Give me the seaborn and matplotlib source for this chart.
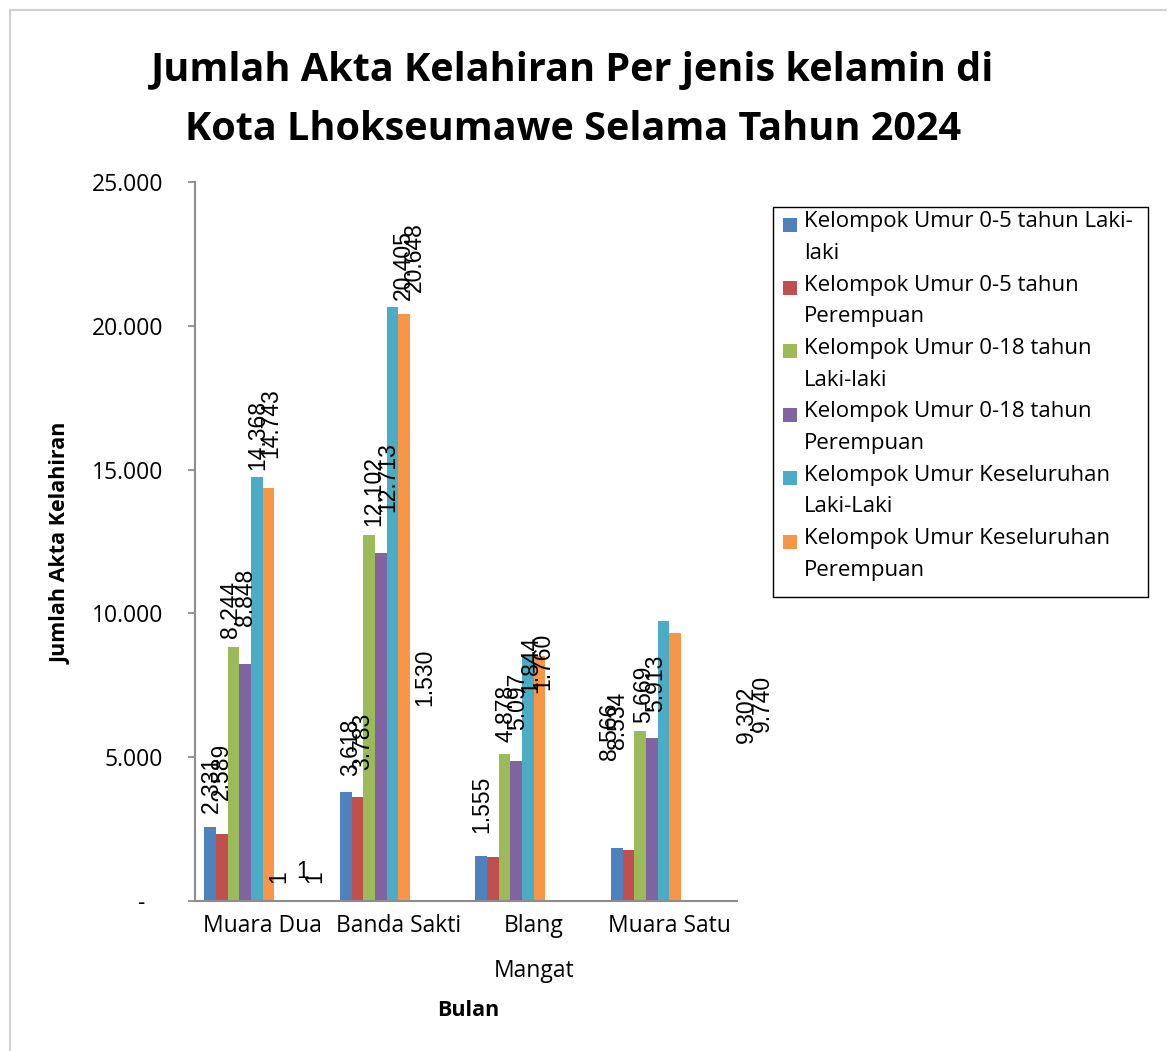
import pandas as pd
import seaborn as sns
import matplotlib.pyplot as plt
from matplotlib.patches import Rectangle
from matplotlib.lines import Line2D

# Data kecamatan
kecamatan = ["Muara Dua", "Banda Sakti", "Blang Mangat", "Muara Satu"]
tick_labels = ["Muara Dua", "Banda Sakti", "Blang\nMangat", "Muara Satu"]

kelompok = [
    "Kelompok Umur 0-5 tahun Laki-laki",
    "Kelompok Umur 0-5 tahun Perempuan",
    "Kelompok Umur 0-18 tahun Laki-laki",
    "Kelompok Umur 0-18 tahun Perempuan",
    "Kelompok Umur Keseluruhan Laki-Laki",
    "Kelompok Umur Keseluruhan Perempuan",
]
legend_lines = [
    ["Kelompok Umur 0-5 tahun Laki-", "laki"],
    ["Kelompok Umur 0-5 tahun", "Perempuan"],
    ["Kelompok Umur 0-18 tahun", "Laki-laki"],
    ["Kelompok Umur 0-18 tahun", "Perempuan"],
    ["Kelompok Umur Keseluruhan", "Laki-Laki"],
    ["Kelompok Umur Keseluruhan", "Perempuan"],
]
# seri kosong di grafik asli (tidak tampil di legenda)
seri_kosong = ["Seri 7", "Seri 8", "Seri 9", "Seri 10"]

umur05_laki = [2589, 3783, 1555, 1844]
umur05_perempuan = [2331, 3618, 1530, 1760]
umur018_laki = [8848, 12713, 5097, 5913]
umur018_perempuan = [8244, 12102, 4878, 5669]
total_laki = [14743, 20648, 8566, 9740]
total_perempuan = [14368, 20405, 8534, 9302]

warna = ["#4F81BD", "#C0504D", "#9BBB59", "#8064A2", "#4BACC6", "#F79646",
         "#2C4D75", "#772C2A", "#5F7530", "#4D3B62"]

y_ticks = [0, 5000, 10000, 15000, 20000, 25000]
y_ticklabels = ["-   ", "5.000", "10.000", "15.000", "20.000", "25.000"]

# Label data (posisinya berantakan seperti di grafik asli)
label_teks = ["2.331", "2.589", "8.244", "8.848", "14.368", "14.743", "1", "1", "1",
              "3.618", "3.783", "12.102", "12.713", "20.405", "20.648", "1.530",
              "1.555", "4.878", "5.097", "1.844", "1.760",
              "8.566", "8.534", "5.669", "5.913", "9.302", "9.740"]
label_kec = [0, 0, 0, 0, 0, 0, 0, 0, 0,
             1, 1, 1, 1, 1, 1, 1,
             2, 2, 2, 2, 2,
             3, 3, 3, 3, 3, 3]
label_slot = [0.05, 0.95, 1.7, 3.05, 4.1, 5.2, 5.9, 7.95, 8.95,
              0.45, 1.4, 2.4, 3.6, 4.9, 5.85, 6.8,
              0.05, 2.1, 3.1, 4.2, 5.25,
              -0.6, 0.05, 2.3, 3.35, 11.15, 12.45]
label_y = [3077, 3500, 9158, 9576, 14986, 15403, 626, 1043, 626,
           4346, 4555, 13039, 13525, 20897, 21175, 6780,
           2364, 5528, 5946, 7232, 7336,
           4903, 5300, 6189, 6572, 5494, 5876]
label_rot = [90, 90, 90, 90, 90, 90, 90, 0, 90,
             90, 90, 90, 90, 90, 90, 90,
             90, 90, 90, 90, 90,
             90, 90, 90, 90, 90, 90]

nilai = [umur05_laki, umur05_perempuan, umur018_laki, umur018_perempuan,
         total_laki, total_perempuan]
df = pd.DataFrame({
    "Kecamatan": kecamatan * len(kelompok),
    "Kelompok": [k for k in kelompok for _ in kecamatan],
    "Jumlah": [v for seri in nilai for v in seri],
})

sns.set_style("white")
plt.rcParams["font.family"] = ["Open Sans", "DejaVu Sans"]
plt.rcParams["text.color"] = "black"
plt.rcParams["xtick.color"] = "black"
plt.rcParams["ytick.color"] = "black"

W, H = 1174, 1051
fig = plt.figure(figsize=(W / 100, H / 100), dpi=100)


def px(x, y):
    return x / W, 1 - y / H


ax = fig.add_axes([195 / W, 1 - 901 / H, (737 - 195) / W, (901 - 182) / H])

lebar = 0.86
urutan = kelompok + seri_kosong
sns.barplot(data=df, x="Kecamatan", y="Jumlah", hue="Kelompok", hue_order=urutan,
            order=kecamatan, palette=warna, width=lebar, linewidth=0,
            saturation=1, legend=False, ax=ax)

ax.set_xlim(-0.5, 3.5)
ax.set_ylim(0, 25000)
ax.set_yticks(y_ticks)
ax.set_yticklabels(y_ticklabels)
ax.set_xticks(range(len(kecamatan)))
ax.set_xticklabels(tick_labels)
ax.set_xlabel("")
ax.set_ylabel("")
for sp in ["top", "right"]:
    ax.spines[sp].set_visible(False)
for sp in ["left", "bottom"]:
    ax.spines[sp].set_color("#8C8C8C")
    ax.spines[sp].set_linewidth(1.5)
ax.tick_params(axis="y", direction="out", length=5, width=1.3, color="#8C8C8C",
               labelcolor="black", pad=18, labelsize=16.5, left=True)
ax.tick_params(axis="x", length=0, pad=9, labelsize=16.5, labelcolor="black")
for t in ax.get_xticklabels():
    t.set_linespacing(2.2)

# label data
bar_w = lebar / len(urutan)
for teks, k, s, yv, rot in zip(label_teks, label_kec, label_slot, label_y, label_rot):
    xv = k - lebar / 2 + bar_w * (s + 0.5)
    ax.text(xv, yv, teks, rotation=rot, ha="center",
            va="bottom" if rot else "center", fontsize=16.5, color="black",
            family=["Liberation Sans", "DejaVu Sans"], clip_on=False)

# judul
fig.text(*px(573, 70), "Jumlah Akta Kelahiran Per jenis kelamin di", ha="center",
         va="center", fontsize=28.5, fontweight="bold", color="black")
fig.text(*px(573, 130), "Kota Lhokseumawe Selama Tahun 2024", ha="center",
         va="center", fontsize=28.5, fontweight="bold", color="black")

fig.text(*px(61, 543), "Jumlah Akta Kelahiran", rotation=90, ha="center",
         va="center", fontsize=15.5, fontweight="bold", color="black")
fig.text(*px(468, 1010), "Bulan", ha="center", va="center", fontsize=15.5,
         fontweight="bold", color="black")

# legenda manual
fig.patches.append(Rectangle(px(773, 597), (1148 - 773) / W, (597 - 207) / H,
                             transform=fig.transFigure, fill=False,
                             edgecolor="black", linewidth=1))
for i, baris in enumerate(legend_lines):
    y1 = 221.7 + 63.4 * i
    fig.patches.append(Rectangle(px(783, y1 + 10), 14 / W, 14 / H,
                                 transform=fig.transFigure, facecolor=warna[i],
                                 edgecolor="none"))
    for j, b in enumerate(baris):
        fig.text(*px(804, y1 + 31.7 * j), b, ha="left", va="center", fontsize=16,
                 color="black")

# bingkai grafik
fig.add_artist(Line2D([10 / W, 10 / W], [0, 1 - 10 / H], transform=fig.transFigure,
                      color="#D0D0D0", linewidth=1.5))
fig.add_artist(Line2D([10 / W, 1 - 8 / W], [1 - 10 / H, 1 - 10 / H],
                      transform=fig.transFigure, color="#D0D0D0", linewidth=1.5))

fig.savefig("out.png", dpi=100)
